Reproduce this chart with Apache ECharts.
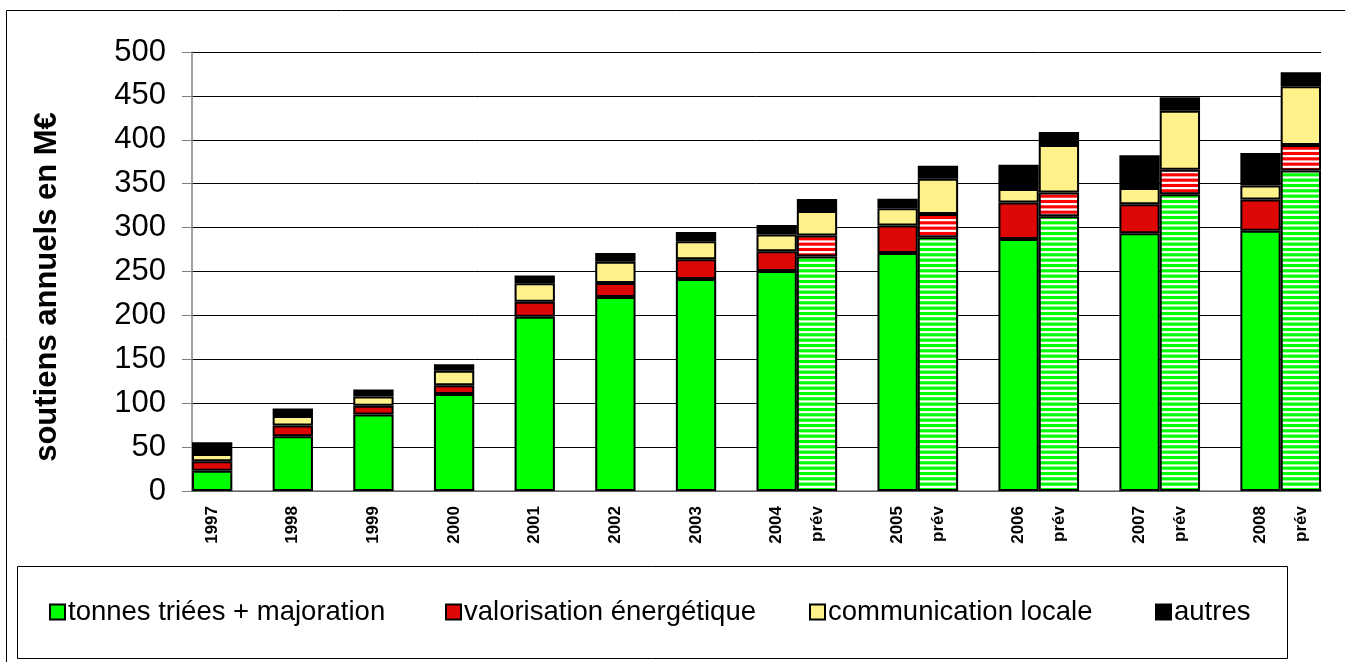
<!DOCTYPE html>
<html>
<head>
    <meta http-equiv="Content-Type" content="text/html; charset=utf-8">
    <title>soutiens annuels</title>
    <style>
        html, body { margin: 0; padding: 0; background: #fff; }
        #main { width: 1345px; height: 662px; }
    </style>
</head>
<body>
    <div id="main"></div>
    <script src="https://cdn.jsdelivr.net/npm/echarts@6/dist/echarts.min.js"></script>
    <script>
        // années réalisées
        var years = ['1997', '1998', '1999', '2000', '2001', '2002', '2003', '2004', '2005', '2006', '2007', '2008'];
        var tonnes = [23, 62.5, 87, 110.5, 198.5, 221, 241.5, 250.5, 271, 287, 293.5, 296.5];
        var valorisation = [11, 12, 10, 10, 17, 16, 22.5, 22.5, 31.5, 41.5, 33, 35.5];
        var communication = [8, 11, 10.5, 16.5, 21, 24, 20.5, 19, 19.5, 15.5, 18.5, 16];
        var autres = [13.5, 8.5, 8, 7.5, 9, 10, 10.5, 11, 11, 27.5, 37.5, 37];

        // prévisions (2004 - 2008)
        var prevYears = ['2004', '2005', '2006', '2007', '2008'];
        var prevTonnes = [267, 289, 313, 338, 365];
        var prevValorisation = [24, 26.5, 27, 28, 29];
        var prevCommunication = [28, 40, 54, 67, 67];
        var prevAutres = [13.5, 15, 15, 15.5, 16];

        var yTicks = [0, 500, 50];
        var names = ['tonnes triées + majoration', 'valorisation énergétique', 'communication locale', 'autres'];
        var colors = ['#00ff00', '#dd0806', '#fff28a', '#000000'];

        // emplacements : année, (prév), vide entre les groupes
        var slots = [];
        var labels = [];
        for (var i = 0; i < years.length; i++) {
            if (i > 0) { slots.push({ type: 'gap' }); labels.push(''); }
            slots.push({ type: 'real', idx: i }); labels.push(years[i]);
            var p = prevYears.indexOf(years[i]);
            if (p >= 0) { slots.push({ type: 'prev', idx: p }); labels.push('prév'); }
        }
        var cats = slots.map(function (s, k) { return 'c' + k; });

        function column(arr, type) {
            return slots.map(function (s) { return s.type === type ? arr[s.idx] : null; });
        }

        // hachures horizontales blanches des prévisions
        function stripes(base) {
            var c = document.createElement('canvas');
            c.width = 8; c.height = 16;
            var g = c.getContext('2d');
            g.fillStyle = base;
            g.fillRect(0, 0, 8, 16);
            g.fillStyle = '#ffffff';
            for (var k = 0; k < 3; k++) g.fillRect(0, k * 16 / 3 + 0.4, 8, 2.2);
            return c;
        }

        var realData = [tonnes, valorisation, communication, autres];
        var prevData = [prevTonnes, prevValorisation, prevCommunication, prevAutres];
        var prevFill = [
            { image: stripes('#00ff00'), repeat: 'repeat' },
            { image: stripes('#ff0000'), repeat: 'repeat' },
            colors[2],
            colors[3]
        ];

        var series = [];
        for (var s = 0; s < 4; s++) {
            series.push({
                name: names[s],
                type: 'bar',
                stack: 'total',
                barCategoryGap: '0%',
                itemStyle: { color: colors[s], borderColor: '#000', borderWidth: 2 },
                data: column(realData[s], 'real')
            });
        }
        for (var s = 0; s < 4; s++) {
            series.push({
                name: names[s] + ' (prév)',
                type: 'bar',
                stack: 'total',
                barCategoryGap: '0%',
                itemStyle: { color: prevFill[s], borderColor: '#000', borderWidth: 2 },
                data: column(prevData[s], 'prev')
            });
        }

        var font = 'Liberation Sans, Arial, sans-serif';
        var legendLeft = [49, 445, 809, 1155];
        var legends = names.map(function (n, k) {
            return {
                data: [n],
                left: legendLeft[k],
                top: 598,
                icon: 'rect',
                itemWidth: 15,
                itemHeight: 15,
                itemGap: 0,
                padding: 0,
                selectedMode: false,
                textStyle: { fontFamily: font, fontSize: 27.5, color: '#000', padding: [0, 0, 0, -2] }
            };
        });

        var myChart = echarts.init(document.getElementById('main'), null, { renderer: 'canvas' });
        myChart.setOption({
            backgroundColor: '#fff',
            animation: false,
            grid: { left: 192, right: 24, top: 52, bottom: 171, containLabel: false },
            legend: legends,
            xAxis: {
                type: 'category',
                data: cats,
                axisLine: { lineStyle: { color: '#808080', width: 1.5 } },
                axisTick: { show: false },
                axisLabel: {
                    interval: 0,
                    rotate: 90,
                    margin: 15,
                    fontFamily: font,
                    fontSize: 17,
                    fontWeight: 'bold',
                    color: '#000',
                    formatter: function (v, idx) { return labels[idx]; }
                }
            },
            yAxis: {
                type: 'value',
                min: yTicks[0],
                max: yTicks[1],
                interval: yTicks[2],
                axisLine: { show: true, lineStyle: { color: '#808080', width: 1.5 } },
                axisTick: { show: true, length: 10, lineStyle: { color: '#808080' } },
                splitLine: { lineStyle: { color: '#000', width: 1 } },
                axisLabel: { fontFamily: font, fontSize: 31, color: '#000', margin: 26 }
            },
            graphic: [
                {
                    type: 'rect', silent: true, z: -1,
                    shape: { x: 6.5, y: 10.5, width: 1400, height: 700 },
                    style: { fill: null, stroke: '#000', lineWidth: 1 }
                },
                {
                    type: 'rect', silent: true, z: -1,
                    shape: { x: 17.5, y: 566.5, width: 1270, height: 92 },
                    style: { fill: '#fff', stroke: '#000', lineWidth: 1 }
                },
                {
                    type: 'text', silent: true,
                    x: 47, y: 287, rotation: Math.PI / 2,
                    style: {
                        text: 'soutiens annuels en M€',
                        fontFamily: font, fontSize: 31, fontWeight: 'bold', fill: '#000',
                        align: 'center', verticalAlign: 'middle'
                    }
                }
            ],
            series: series
        });
    </script>
</body>
</html>
